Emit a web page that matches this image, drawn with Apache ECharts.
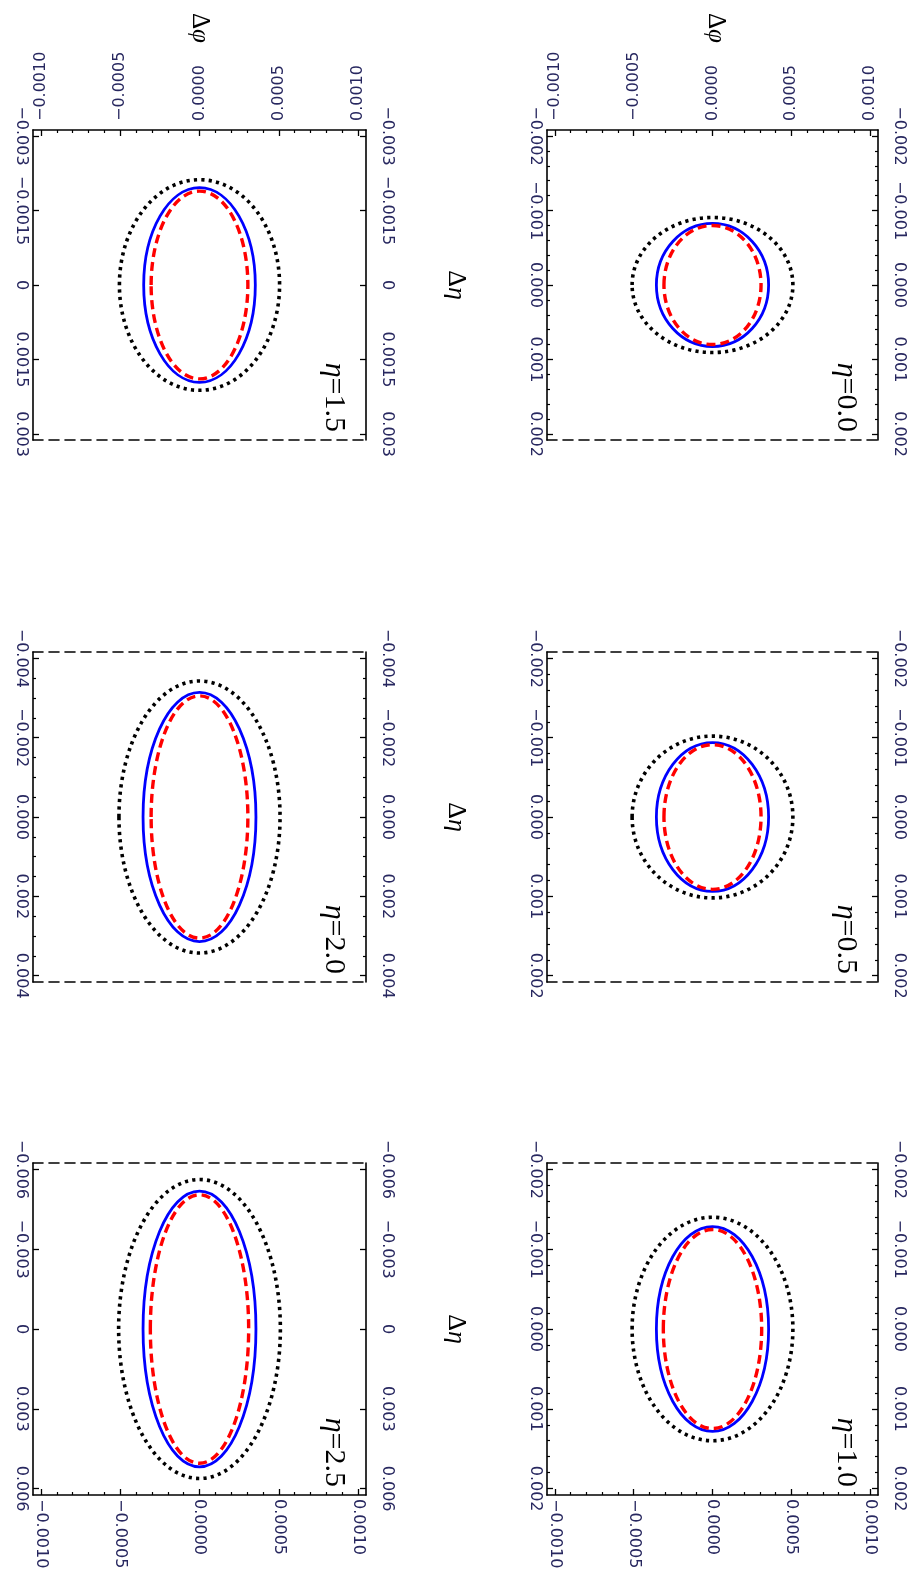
<!DOCTYPE html>
<html>
<head>
<meta charset="utf-8">
<script src="https://cdn.jsdelivr.net/npm/echarts@6/dist/echarts.min.js"></script>
<style>
  html, body { margin: 0; padding: 0; background: #fff; }
  #main { width: 912px; height: 1572px; }
</style>
</head>
<body>
<div id="main"></div>
<script>
// panels: right column η=0.0,0.5,1.0 ; left column η=1.5,2.0,2.5
const etaNames = ['0.0', '0.5', '1.0', '1.5', '2.0', '2.5'];

// Δφ axis (horizontal on the page), same for all panels
const dphiTicks = [-0.001, -0.0005, 0, 0.0005, 0.001];
const dphiLabels = ['\u22120.0010', '\u22120.0005', '0.0000', '0.0005', '0.0010'];
const dphiMinorStep = 0.0001;
const dphiRange = 0.00105;

// Δη axis (vertical on the page)
const detaTicks = [
  [-0.002, -0.001, 0, 0.001, 0.002],
  [-0.002, -0.001, 0, 0.001, 0.002],
  [-0.002, -0.001, 0, 0.001, 0.002],
  [-0.003, -0.0015, 0, 0.0015, 0.003],
  [-0.004, -0.002, 0, 0.002, 0.004],
  [-0.006, -0.003, 0, 0.003, 0.006]
];
const detaLabels = [
  ['\u22120.002', '\u22120.001', '0.000', '0.001', '0.002'],
  ['\u22120.002', '\u22120.001', '0.000', '0.001', '0.002'],
  ['\u22120.002', '\u22120.001', '0.000', '0.001', '0.002'],
  ['\u22120.003', '\u22120.0015', '0', '0.0015', '0.003'],
  ['\u22120.004', '\u22120.002', '0.000', '0.002', '0.004'],
  ['\u22120.006', '\u22120.003', '0', '0.003', '0.006']
];
const detaMinorStep = [0.0002, 0.0002, 0.0002, 0, 0.0005, 0];

// ellipse semi-axes: Δφ and Δη
const dottedPhi = [0.00051, 0.00051, 0.00051, 0.000505, 0.000508, 0.00051];
const dottedEta = [0.000906, 0.00102, 0.0014, 0.00212, 0.00343, 0.00562];
const solidPhi = [0.000356, 0.000356, 0.000356, 0.000352, 0.000356, 0.000356];
const solidEta = [0.000826, 0.000938, 0.001284, 0.00196, 0.00314, 0.00518];
const dashedPhi = [0.000308, 0.000308, 0.000312, 0.000305, 0.000305, 0.00031];
const dashedEta = [0.000799, 0.000912, 0.001247, 0.00189, 0.003054, 0.005047];

// page layout of the frames [x0, y0, x1, y1]
const boxes = [
  [547, 130, 878, 440],
  [547, 652, 878, 982],
  [547, 1163, 878, 1495],
  [33, 130, 366, 440],
  [33, 652, 366, 982],
  [33, 1163, 366, 1495]
];
const rowOf = [0, 1, 2, 0, 1, 2];

const chart = echarts.init(document.getElementById('main'));

function minorValues(range, step, majors) {
  if (!step) return [];
  const out = [];
  const n = Math.floor(range / step + 1e-9);
  for (let k = -n; k <= n; k++) {
    const v = +(k * step).toFixed(7);
    if (!majors.some(m => Math.abs(m - v) < 1e-9)) out.push(v);
  }
  return out;
}
function pick(vals, labels) {
  return function (v) {
    const i = vals.findIndex(t => Math.abs(t - v) < 1e-9);
    return i < 0 ? '' : labels[i];
  };
}

const solidLine = { show: true, onZero: false, lineStyle: { color: '#000', width: 1.6 } };
const dashLine = { show: true, onZero: false, lineStyle: { color: '#000', width: 1.6, type: [10, 6] } };
const noLine = { show: false, onZero: false };
const labelStyle = { fontFamily: 'DejaVu Sans', fontSize: 16, color: '#27275f', rotate: -90 };

const grids = [], xAxes = [], yAxes = [], series = [], graphics = [];

boxes.forEach(function (b, i) {
  grids.push({ left: b[0], top: b[1], width: b[2] - b[0], height: b[3] - b[1], outerBoundsMode: 'none' });
  const row = rowOf[i];
  const dr = detaTicks[i][4] * 1.04;
  const phiBase = { type: 'value', gridIndex: i, min: -dphiRange, max: dphiRange, splitLine: { show: false } };
  const etaBase = { type: 'value', gridIndex: i, min: -dr, max: dr, inverse: true, splitLine: { show: false } };

  // Δφ: the solid side carries ticks and labels
  const labelSide = row === 0 ? 'top' : (row === 2 ? 'bottom' : null);
  const mainX = xAxes.length;
  ['top', 'bottom'].forEach(function (side) {
    if (side === labelSide) {
      xAxes.push(Object.assign({}, phiBase, {
        position: side, axisLine: solidLine,
        axisTick: { show: true, inside: true, length: 6, customValues: dphiTicks, lineStyle: { color: '#000', width: 1.3 } },
        axisLabel: Object.assign({}, labelStyle, { customValues: dphiTicks, formatter: pick(dphiTicks, dphiLabels), margin: side === 'top' ? 9 : 4 })
      }));
      xAxes.push(Object.assign({}, phiBase, {
        position: side, axisLine: noLine,
        axisTick: { show: true, inside: true, length: 3, customValues: minorValues(dphiRange, dphiMinorStep, dphiTicks), lineStyle: { color: '#000', width: 1.2 } },
        axisLabel: { show: false }
      }));
    } else {
      xAxes.push(Object.assign({}, phiBase, {
        position: side, axisLine: dashLine, axisTick: { show: false }, axisLabel: { show: false }
      }));
    }
  });

  // Δη: both sides solid with ticks and labels
  const mainY = yAxes.length;
  const minorEta = minorValues(dr, detaMinorStep[i], detaTicks[i]);
  ['left', 'right'].forEach(function (side) {
    yAxes.push(Object.assign({}, etaBase, {
      position: side, axisLine: solidLine,
      axisTick: { show: true, inside: true, length: 6, customValues: detaTicks[i], lineStyle: { color: '#000', width: 1.3 } },
      axisLabel: Object.assign({}, labelStyle, { customValues: detaTicks[i], formatter: pick(detaTicks[i], detaLabels[i]), margin: side === 'left' ? 4 : 13 })
    }));
    if (minorEta.length) {
      yAxes.push(Object.assign({}, etaBase, {
        position: side, axisLine: noLine,
        axisTick: { show: true, inside: true, length: 3, customValues: minorEta, lineStyle: { color: '#000', width: 1.2 } },
        axisLabel: { show: false }
      }));
    }
  });

  const curves = [
    { a: dottedPhi[i], e: dottedEta[i], color: '#000000', width: 3.6, dash: [3.2, 4.2] },
    { a: solidPhi[i], e: solidEta[i], color: '#0000ff', width: 2.8, dash: null },
    { a: dashedPhi[i], e: dashedEta[i], color: '#ff0000', width: 3.4, dash: [9, 5] }
  ];
  curves.forEach(function (c) {
    series.push({
      type: 'custom', xAxisIndex: mainX, yAxisIndex: mainY, silent: true,
      encode: { x: 0, y: 1 },
      data: [[0, 0, c.a, c.e]],
      renderItem: function (params, api) {
        const ctr = api.coord([api.value(0), api.value(1)]);
        const sz = api.size([api.value(2), api.value(3)]);
        return {
          type: 'ellipse',
          shape: { cx: ctr[0], cy: ctr[1], rx: sz[0], ry: sz[1] },
          style: { fill: null, stroke: c.color, lineWidth: c.width, lineDash: c.dash, lineCap: 'butt' }
        };
      }
    });
  });

  // η label inside the frame
  graphics.push({
    type: 'text', x: b[2] - 17, y: b[3] - 8, rotation: -Math.PI / 2,
    style: {
      text: '{i|\u03b7}=' + etaNames[i], align: 'right', verticalAlign: 'top',
      fontFamily: 'Liberation Serif', fontSize: 30, fill: '#000',
      rich: { i: { fontStyle: 'italic', fontFamily: 'Liberation Serif', fontSize: 30 } }
    }
  });
});

// axis titles
[200, 716].forEach(function (cx) {
  graphics.push({
    type: 'text', x: cx, y: 28, rotation: -Math.PI / 2,
    style: {
      text: '\u0394{i|\u03c6}', align: 'center', verticalAlign: 'middle',
      fontFamily: 'Liberation Serif', fontSize: 25, fill: '#000',
      rich: { i: { fontStyle: 'italic', fontFamily: 'Liberation Serif', fontSize: 25 } }
    }
  });
});
[0, 1, 2].forEach(function (r) {
  const b = boxes[3 + r];
  graphics.push({
    type: 'text', x: 456, y: (b[1] + b[3]) / 2, rotation: -Math.PI / 2,
    style: {
      text: '\u0394{i|\u03b7}', align: 'center', verticalAlign: 'middle',
      fontFamily: 'Liberation Serif', fontSize: 26, fill: '#000',
      rich: { i: { fontStyle: 'italic', fontFamily: 'Liberation Serif', fontSize: 26 } }
    }
  });
});

chart.setOption({
  animation: false,
  backgroundColor: '#fff',
  grid: grids,
  xAxis: xAxes,
  yAxis: yAxes,
  series: series,
  graphic: graphics
});
</script>
</body>
</html>
